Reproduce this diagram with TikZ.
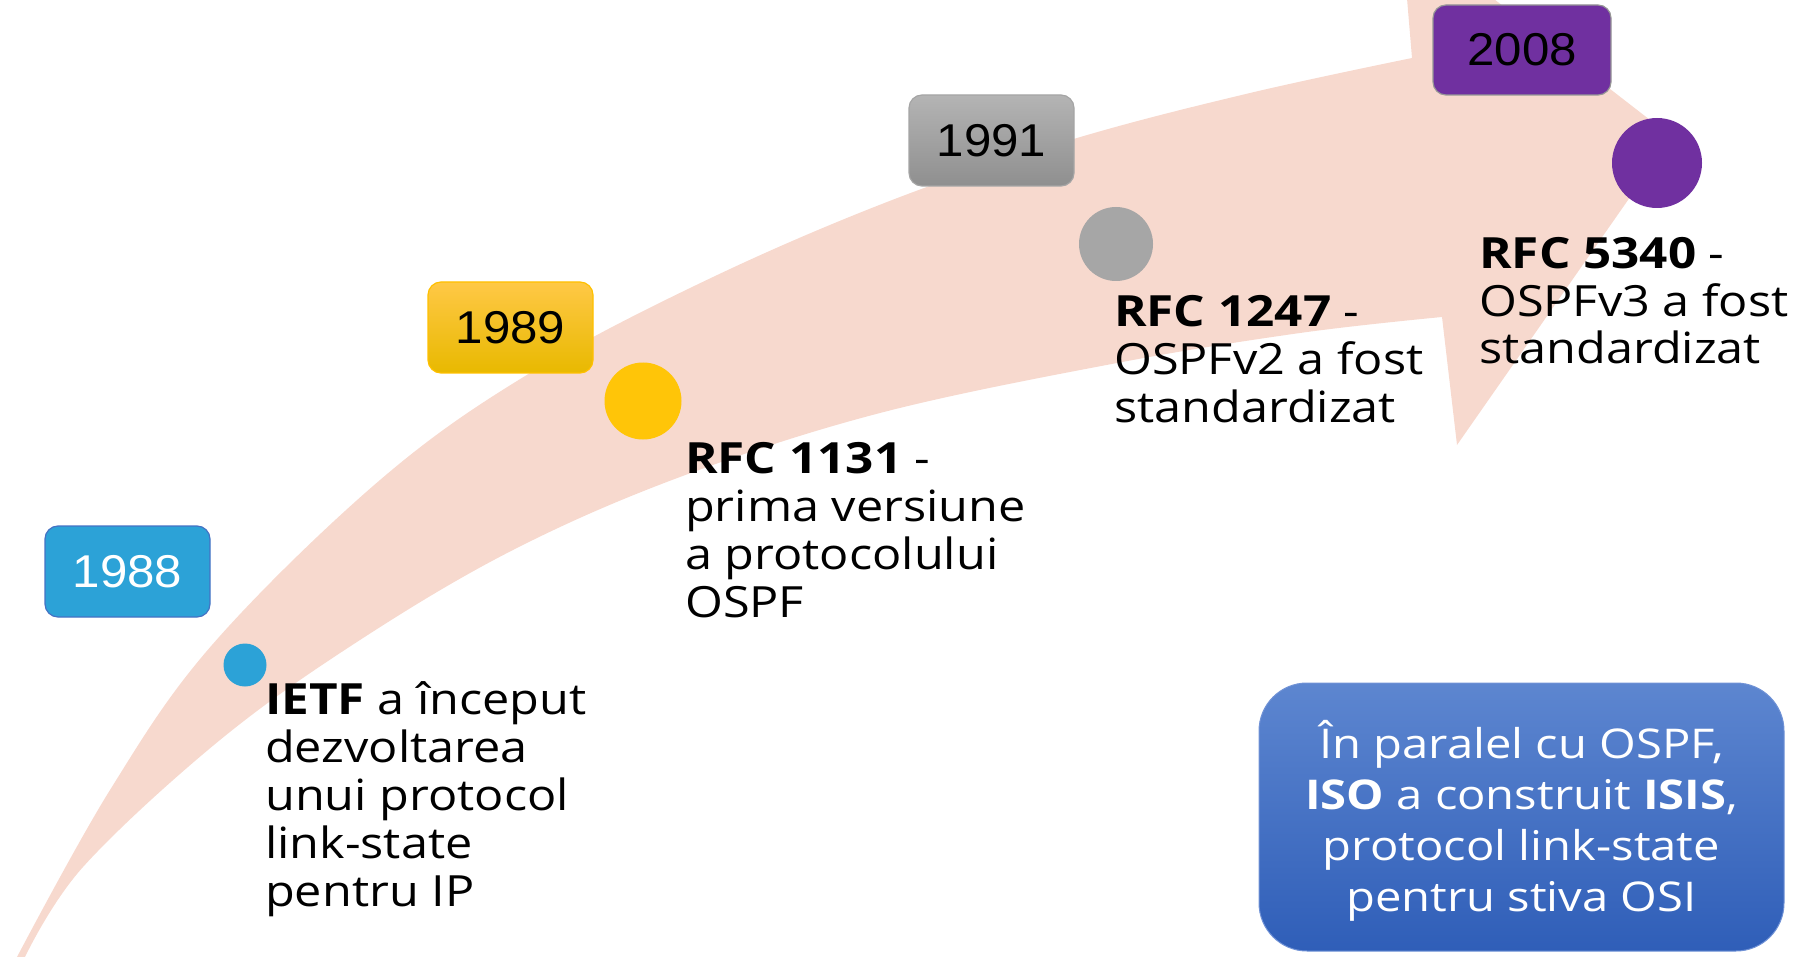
\documentclass[tikz,border=0pt]{standalone}
\usepackage{fontspec}
\setmainfont{Open Sans}[FakeStretch=1.13, BoldFeatures={FakeStretch=1.15}]
\newfontfamily\boxfont{Open Sans}[FakeStretch=1.15]
\newfontfamily\yearfont{Liberation Sans}[FakeStretch=1.07]
\definecolor{band}{RGB}{247,217,206}
\definecolor{tblue}{RGB}{44,162,215}
\definecolor{tyellow}{RGB}{255,197,8}
\definecolor{tgray}{RGB}{166,166,166}
\definecolor{tpurple}{RGB}{112,48,160}
\definecolor{boxtop}{RGB}{93,134,208}
\definecolor{boxbot}{RGB}{47,94,184}
\begin{document}
\begin{tikzpicture}[x=1pt,y=-1pt,
  yearbox/.style={rounded corners=13pt, minimum width=165pt, minimum height=91pt,
    inner sep=0pt, line width=1.2pt, font=\yearfont\fontsize{46}{50}\selectfont},
  dot/.style={circle, inner sep=0pt, draw=none},
  desc/.style={anchor=base west, align=left, inner sep=0pt,
    font=\fontsize{43}{48}\selectfont},
  infobox/.style={rounded corners=48pt, minimum width=525pt, minimum height=268pt,
    top color=boxtop, bottom color=boxbot,
    draw={rgb,255:red,112;green,146;blue,214}, line width=1pt},
  infotext/.style={align=center, text=white, inner sep=0pt,
    font=\boxfont\fontsize{41}{51}\selectfont}]
\useasboundingbox (0,0) rectangle (1804,957);
\begin{scope}
\clip (0,0) rectangle (1804,957);
\fill[band] (10,975) -- plot[smooth,tension=0.6] coordinates {(17,957) (110,790) (212,645) (380,480) (530,373) (713,277) (900,197) (1077,138) (1250,93) (1412,58)}
  -- (1401,-73) -- (1672,137) -- (1457,445) -- (1442,317)
  -- plot[smooth,tension=0.6] coordinates {(1442,317) (1300,333) (1117,363) (880,413) (680,477) (513,550) (360,640) (220,740) (83,867) (25,957)} -- cycle;
\end{scope}
% year boxes
\node[yearbox, fill=tblue, draw={rgb,255:red,68;green,114;blue,196}, text=white] (y1988) at (127.5,571.5) {1988};
\node[yearbox, top color={rgb,255:red,255;green,200;blue,70}, middle color={rgb,255:red,255;green,195;blue,0}, bottom color={rgb,255:red,232;green,185;blue,0}, draw={rgb,255:red,255;green,192;blue,0}] (y1989) at (510.5,327.5) {1989};
\node[yearbox, top color={rgb,255:red,180;green,180;blue,180}, bottom color={rgb,255:red,143;green,143;blue,143}, draw={rgb,255:red,165;green,165;blue,165}] (y1991) at (991.5,140.5) {1991};
\node[yearbox, minimum width=178pt, minimum height=90pt, fill=tpurple, draw={rgb,255:red,150;green,150;blue,150}] (y2008) at (1522,50) {2008};
% dots
\node[dot, fill=tblue, minimum size=43pt] (d1988) at (245,665) {};
\node[dot, fill=tyellow, minimum size=77pt] (d1989) at (643,401) {};
\node[dot, fill=tgray, minimum size=74pt] (d1991) at (1116,244) {};
\node[dot, fill=tpurple, minimum size=90pt] (d2008) at (1657,163) {};
% descriptions (anchor = baseline of the last line)
\node[desc] (t1988) at (265,906) {\textbf{IETF} a început\\dezvoltarea\\unui protocol\\link-state\\pentru IP};
\node[desc] (t1989) at (685,617) {\textbf{RFC 1131} -\\prima versiune\\a protocolului\\OSPF};
\node[desc] (t1991) at (1114,422) {\textbf{RFC 1247} -\\OSPFv2 a fost\\standardizat};
\node[desc] (t2008) at (1479,364) {\textbf{RFC 5340} -\\OSPFv3 a fost\\standardizat};
% info box
\node[infobox] (iso) at (1521.5,817) {};
\node[infotext] (isotext) at (1521.5,821) {În paralel cu OSPF,\\\textbf{ISO} a construit \textbf{ISIS},\\protocol link-state\\pentru stiva OSI};
\end{tikzpicture}
\end{document}
